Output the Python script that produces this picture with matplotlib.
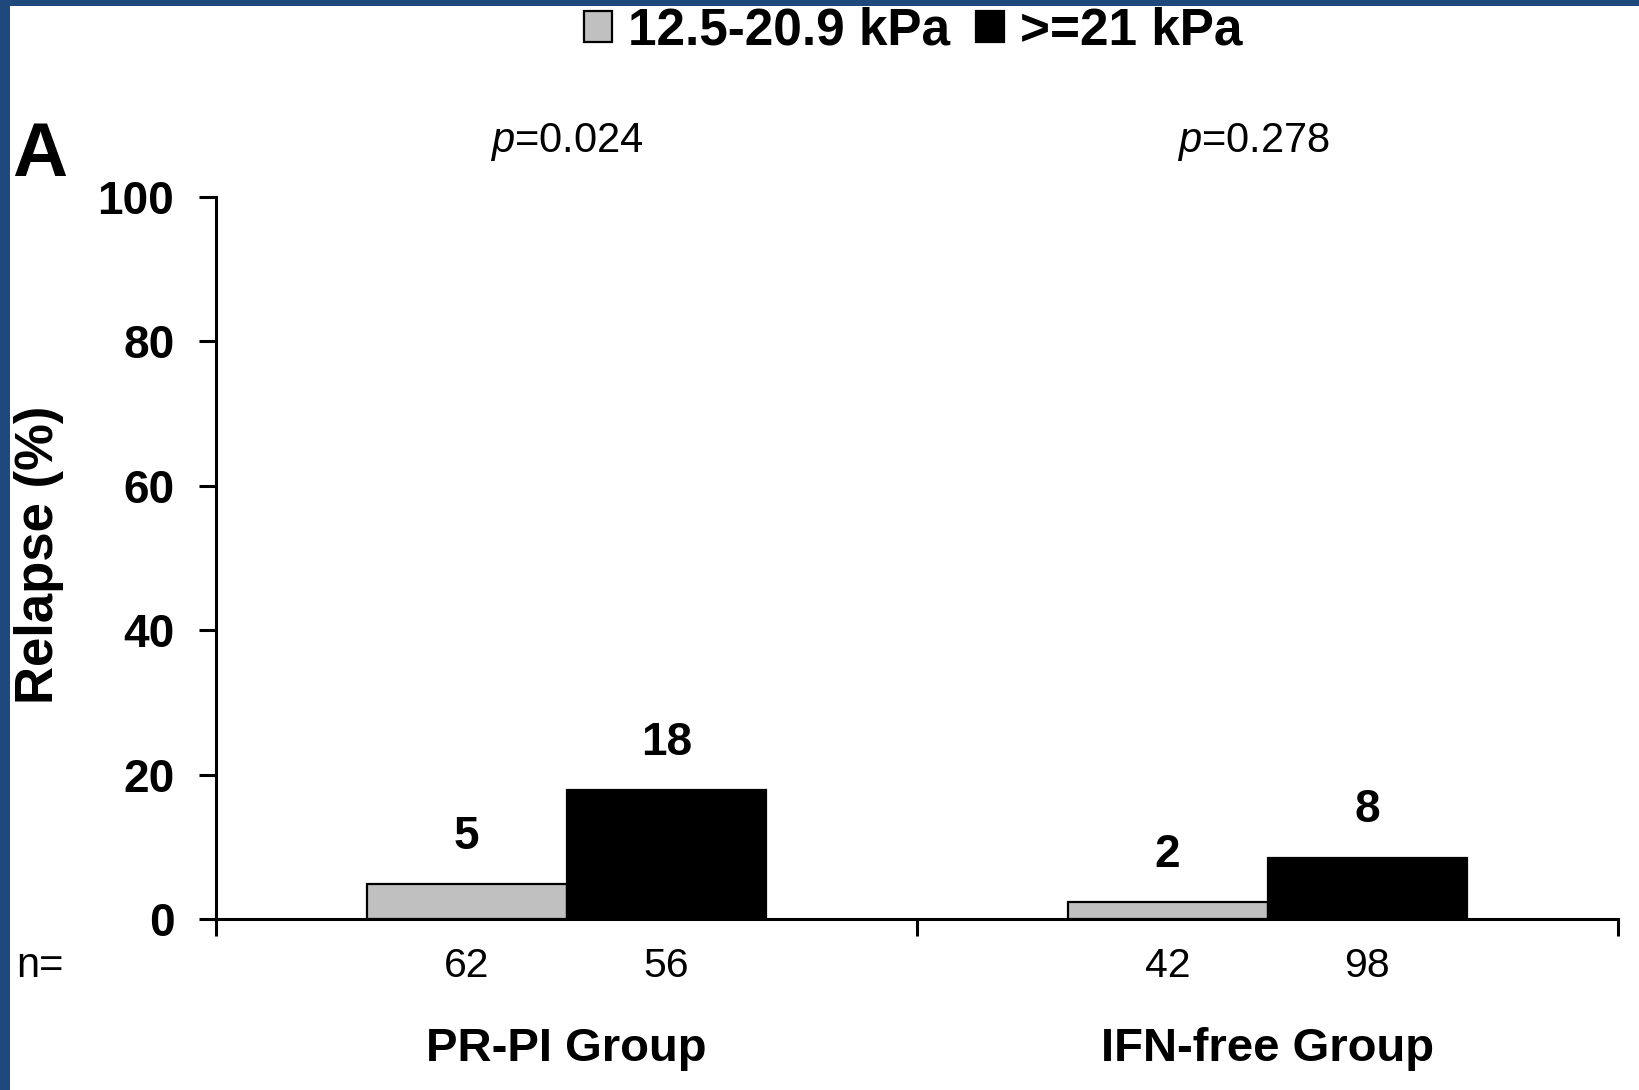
import matplotlib
matplotlib.use("Agg")
import matplotlib.pyplot as plt
from matplotlib.patches import Patch, Rectangle

plt.rcParams['font.family'] = ['Liberation Sans', 'DejaVu Sans']
plt.rcParams['mathtext.fontset'] = 'custom'
plt.rcParams['mathtext.rm'] = 'Liberation Sans'
plt.rcParams['mathtext.it'] = 'Liberation Sans:italic'

# ---- data ----
groups = ["PR-PI Group", "IFN-free Group"]
series_names = ["12.5-20.9 kPa", ">=21 kPa"]
low_stiff = [4.8, 2.3]        # relapse %, 12.5-20.9 kPa
high_stiff = [17.9, 8.5]      # relapse %, >=21 kPa
low_labels = ["5", "2"]
high_labels = ["18", "8"]
n_low = [62, 42]
n_high = [56, 98]
p_values = ["0.024", "0.278"]
yticks = [0, 20, 40, 60, 80, 100]

W, H = 1639, 1090
fig = plt.figure(figsize=(W / 100, H / 100), dpi=100)
fig.patch.set_facecolor("white")
ax = fig.add_axes([216 / W, 1 - 919 / H, 1402 / W, 722 / H])

grey = "#c0c0c0"
bw = 0.285
x = list(range(len(groups)))
xl = [i - bw / 2 for i in x]
xh = [i + bw / 2 for i in x]
ax.bar(xl, low_stiff, width=bw, color=grey, edgecolor="black", linewidth=1.6, zorder=3)
ax.bar(xh, high_stiff, width=bw, color="black", edgecolor="black", linewidth=1.6, zorder=3)

ax.set_xlim(-0.5, len(groups) - 0.5)
ax.set_ylim(0, 100)

# spines
for s in ["top", "right"]:
    ax.spines[s].set_visible(False)
for s in ["left", "bottom"]:
    ax.spines[s].set_linewidth(2.2)

ax.set_yticks(yticks)
ax.set_yticklabels([str(t) for t in yticks], fontsize=33, fontweight="bold")
ax.tick_params(axis="y", direction="out", length=12, width=2.2, pad=18)

# x major ticks at category boundaries (no labels)
ax.set_xticks([-0.5, 0.5, 1.5])
ax.set_xticklabels(["", "", ""])
ax.tick_params(axis="x", which="major", direction="out", length=12, width=2.2)

# value labels above bars
for xi, v, lab in zip(xl, low_stiff, low_labels):
    ax.annotate(lab, (xi, v), xytext=(0, 34), textcoords="offset points",
                ha="center", va="center", fontsize=33, fontweight="bold")
for xi, v, lab in zip(xh, high_stiff, high_labels):
    ax.annotate(lab, (xi, v), xytext=(0, 34), textcoords="offset points",
                ha="center", va="center", fontsize=33, fontweight="bold")

# n values below axis
for xi, n in zip(xl, n_low):
    ax.annotate(str(n), (xi, 0), xytext=(0, -42), textcoords="offset points",
                ha="center", va="baseline", fontsize=29.5, annotation_clip=False)
for xi, n in zip(xh, n_high):
    ax.annotate(str(n), (xi, 0), xytext=(0, -42), textcoords="offset points",
                ha="center", va="baseline", fontsize=29.5, annotation_clip=False)

# group labels
for xi, g in zip(x, groups):
    ax.annotate(g, (xi, 0), xytext=(0, -102), textcoords="offset points",
                ha="center", va="baseline", fontsize=34, fontweight="bold",
                annotation_clip=False)

# p-values
p_x = [0.0, 0.98]
for xi, p in zip(p_x, p_values):
    ax.text(xi, 106.2, r"$p$=" + p, ha="center", va="baseline", fontsize=30,
            clip_on=False)

# y label
ax.set_ylabel("Relapse (%)", fontsize=38, fontweight="bold", va="center")
ax.yaxis.set_label_coords(-0.126, 0.505)

# n= label
fig.text(16 / W, 1 - 977 / H, "n=", ha="left", va="baseline", fontsize=30)

# panel letter
fig.text(12 / W, 1 - 176 / H, "A", ha="left", va="baseline", fontsize=55, fontweight="bold")

# legend
handles = [Patch(facecolor=grey, edgecolor="black", linewidth=1.6),
           Patch(facecolor="black", edgecolor="black", linewidth=1.6)]
fig.legend(handles, series_names, loc="center", bbox_to_anchor=(913 / W, 1 - 31 / H),
           ncol=2, frameon=False, handlelength=0.56, handleheight=0.56,
           handletextpad=0.3, columnspacing=0.5, borderpad=0, borderaxespad=0,
           prop={"size": 37, "weight": "bold"})

# blue frame on top and left
blue = "#1f487c"
fig.add_artist(Rectangle((0, 1 - 6 / H), 1, 6 / H, transform=fig.transFigure,
                         facecolor=blue, edgecolor="none", zorder=0))
fig.add_artist(Rectangle((0, 0), 10 / W, 1, transform=fig.transFigure,
                         facecolor=blue, edgecolor="none", zorder=0))

fig.savefig("out.png", dpi=100)
